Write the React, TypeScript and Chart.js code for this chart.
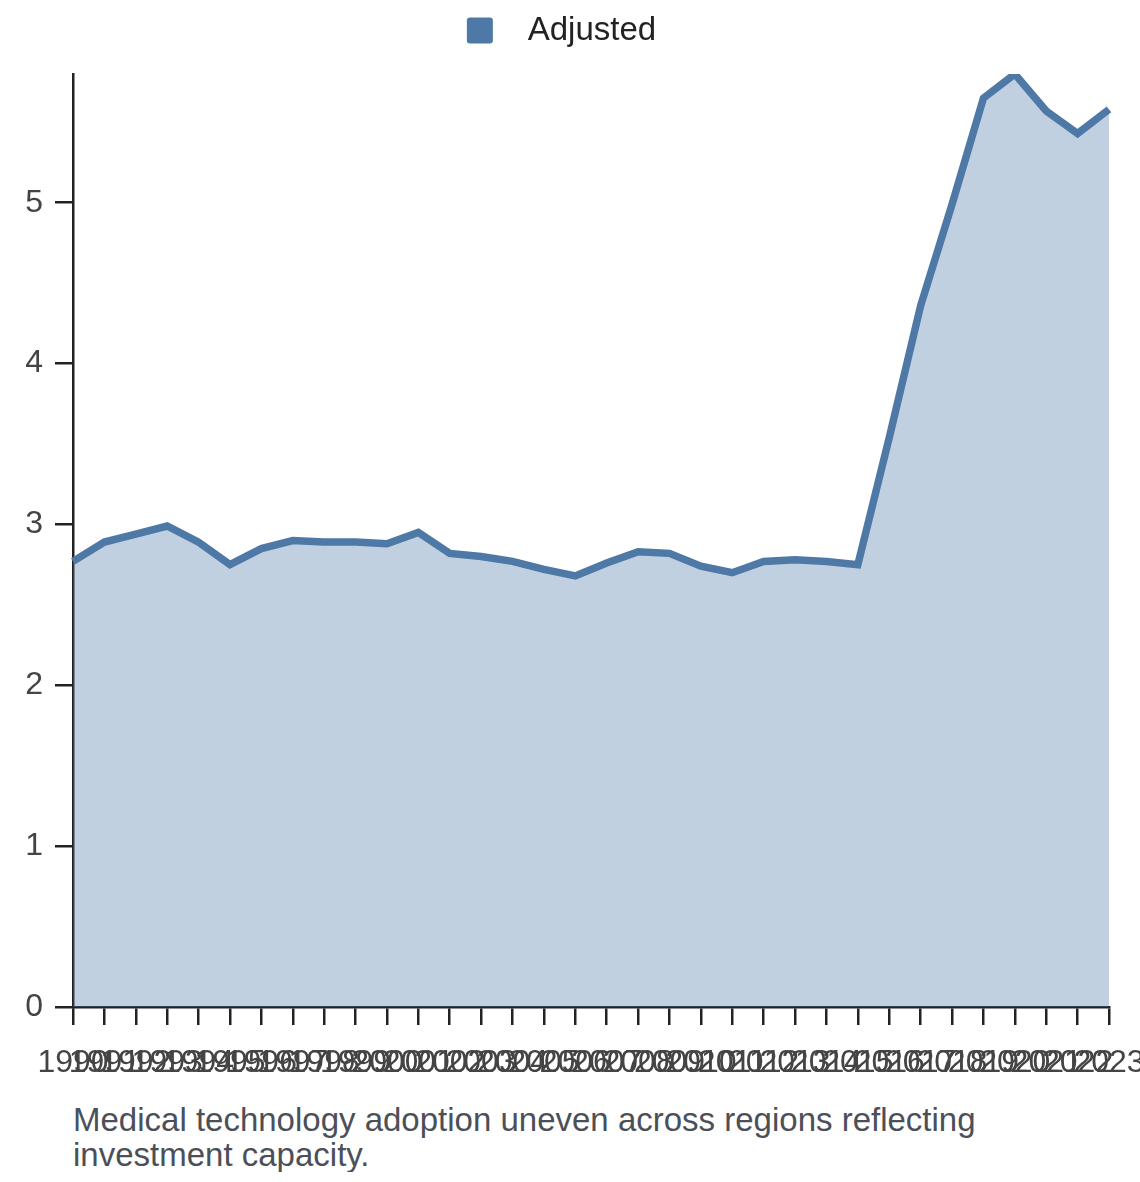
import { useEffect, useRef } from "react";
import { Chart, registerables } from "chart.js";

Chart.register(...registerables);

// Years on the x axis
const years = [
  "1990", "1991", "1992", "1993", "1994", "1995", "1996", "1997", "1998", "1999",
  "2000", "2001", "2002", "2003", "2004", "2005", "2006", "2007", "2008", "2009",
  "2010", "2011", "2012", "2013", "2014", "2015", "2016", "2017", "2018", "2019",
  "2020", "2021", "2022", "2023",
];

// Adjusted series
const adjusted = [
  2.77, 2.89, 2.94, 2.99, 2.89, 2.75, 2.85, 2.9, 2.89, 2.89,
  2.88, 2.95, 2.82, 2.8, 2.77, 2.72, 2.68, 2.76, 2.83, 2.82,
  2.74, 2.7, 2.77, 2.78, 2.77, 2.75, 3.54, 4.36, 4.99, 5.65,
  5.8, 5.57, 5.43, 5.58,
];

const seriesName = "Adjusted";
const caption =
  "Medical technology adoption uneven across regions reflecting investment capacity.";

const FONT = "'Liberation Sans', Arial, Helvetica, sans-serif";
const LINE = "#4e79a7";
const AREA = "rgba(78,121,167,0.35)";
const AXIS = "#222222";

// extra room under the legend
const legendGap = {
  id: "legendGap",
  beforeInit(chart: any) {
    const fit = chart.legend.fit;
    chart.legend.fit = function () {
      fit.bind(chart.legend)();
      this.height += 17;
    };
  },
};

const AreaChart = () => {
  const chartRef = useRef<HTMLCanvasElement>(null);
  const chartInstance = useRef<Chart | null>(null);

  useEffect(() => {
    document.body.style.margin = "0";
    if (!chartRef.current) return;
    if (chartInstance.current) chartInstance.current.destroy();

    const ctx = chartRef.current.getContext("2d");
    if (!ctx) return;

    chartInstance.current = new Chart(ctx, {
      type: "line",
      data: {
        labels: years,
        datasets: [
          {
            label: seriesName,
            data: adjusted,
            borderColor: LINE,
            backgroundColor: AREA,
            borderWidth: 7.5,
            fill: "origin",
            pointRadius: 0,
            tension: 0,
          },
        ],
      },
      plugins: [legendGap],
      options: {
        animation: false,
        responsive: true,
        maintainAspectRatio: false,
        layout: { padding: { left: 0, right: 17, top: 0, bottom: 0 } },
        plugins: {
          tooltip: { enabled: false },
          legend: {
            display: true,
            position: "top",
            labels: {
              boxWidth: 26,
              boxHeight: 26,
              padding: 14,
              color: "#222",
              font: { family: FONT, size: 33 },
              useBorderRadius: true,
              borderRadius: 3,
              generateLabels: (chart: Chart) =>
                Chart.defaults.plugins.legend.labels
                  .generateLabels(chart)
                  .map((l: any) => ({
                    ...l,
                    text: "  " + l.text,
                    fillStyle: LINE,
                    strokeStyle: LINE,
                    lineWidth: 0,
                  })),
            },
          },
        },
        scales: {
          x: {
            offset: false,
            border: { display: true, color: AXIS, width: 2.5 },
            grid: {
              display: true,
              drawOnChartArea: false,
              drawTicks: true,
              tickLength: 18,
              color: AXIS,
              lineWidth: 2.5,
            },
            ticks: {
              autoSkip: false,
              maxRotation: 0,
              minRotation: 0,
              padding: 19,
              color: "#444",
              font: { family: FONT, size: 32 },
            },
            afterFit: (scale: any) => {
              scale.height = 80;
              scale.paddingLeft = 0;
              scale.paddingRight = 31;
            },
          },
          y: {
            min: 0,
            max: Math.max(...adjusted),
            border: { display: true, color: AXIS, width: 2.5 },
            grid: {
              display: true,
              drawOnChartArea: false,
              drawTicks: true,
              tickLength: 18,
              color: AXIS,
              lineWidth: 2.5,
            },
            ticks: {
              stepSize: 1,
              includeBounds: false,
              padding: 12,
              color: "#444",
              font: { family: FONT, size: 32 },
            },
            afterFit: (scale: any) => {
              scale.width = 73;
            },
          },
        },
      },
    });

    return () => {
      if (chartInstance.current) {
        chartInstance.current.destroy();
        chartInstance.current = null;
      }
    };
  }, []);

  return (
    <div style={{ height: "1087px", width: "1140px", position: "relative" }}>
      <canvas ref={chartRef} />
    </div>
  );
};

export default function App() {
  return (
    <div style={{ width: "1140px", background: "#fff" }}>
      <AreaChart />
      <div
        style={{
          fontFamily: FONT,
          fontSize: "33px",
          lineHeight: "35px",
          color: "#4b5058",
          paddingLeft: "73px",
          marginTop: "15px",
          width: "970px",
        }}
      >
        {caption}
      </div>
    </div>
  );
}
